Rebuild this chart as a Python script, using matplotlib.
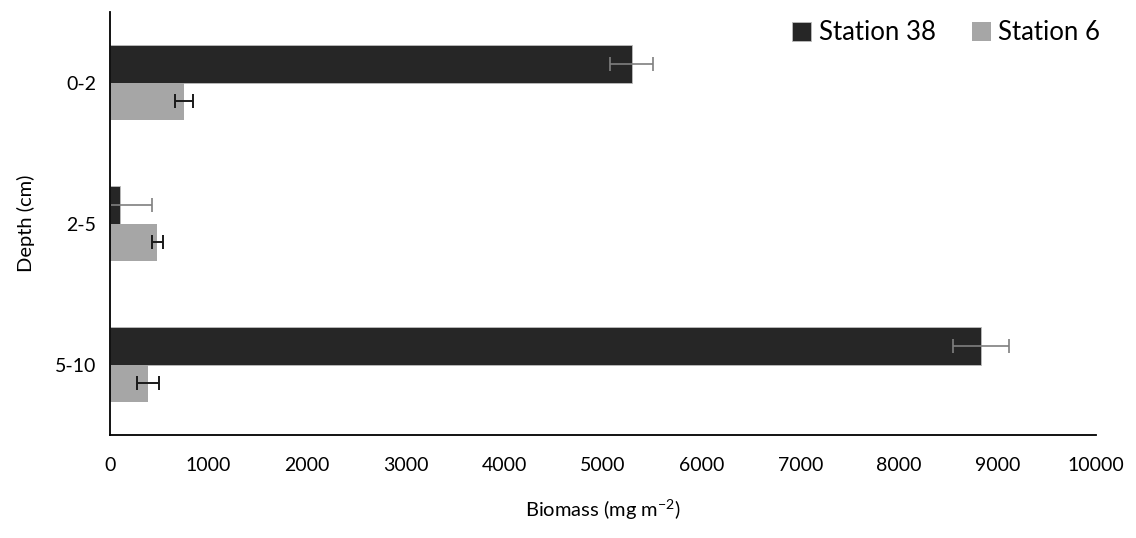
import numpy as np
import matplotlib.pyplot as plt

plt.rcParams['font.family'] = ['Lato', 'DejaVu Sans']
plt.rcParams['mathtext.fontset'] = 'custom'
plt.rcParams['mathtext.rm'] = 'Lato'
plt.rcParams['mathtext.default'] = 'regular'

# biomass by sediment depth layer
depths = ["0-2", "2-5", "5-10"]
st38 = [5290, 100, 8830]
st38_err = [220, 325, 285]
st6 = [750, 480, 385]
st6_err = [95, 55, 115]

fig = plt.figure(figsize=(11.36, 5.38), dpi=100)
ax = fig.add_axes([110 / 1136, 103 / 538, 986 / 1136, 423 / 538])

y = np.arange(len(depths))
h = 0.263

ax.barh(y - h / 2, st38, height=h, color="#262626", edgecolor="#bdbdbd", linewidth=0.6,
        label="Station 38")
ax.barh(y + h / 2, st6, height=h, color="#a6a6a6", label="Station 6")
ax.errorbar(st38, y - h / 2, xerr=st38_err, fmt="none", ecolor="#7f7f7f",
            elinewidth=1.2, capsize=5, capthick=1.2)
ax.errorbar(st6, y + h / 2, xerr=st6_err, fmt="none", ecolor="#1a1a1a",
            elinewidth=1.4, capsize=5, capthick=1.4)

ax.set_xlim(0, 10000)
ax.set_ylim(2.5, -0.5)
ax.set_xticks(np.arange(0, 10001, 1000))
ax.set_yticks(y)
ax.set_yticklabels(depths)
ax.tick_params(length=0, labelsize=14, colors="black")
ax.tick_params(axis="x", pad=16)
ax.tick_params(axis="y", pad=10)

for s in ["top", "right"]:
    ax.spines[s].set_visible(False)
ax.spines["left"].set_linewidth(1.3)
ax.spines["bottom"].set_linewidth(1.3)

ax.set_xlabel("Biomass (mg m$^{-2}$)", fontsize=14.5, labelpad=17)
ax.set_ylabel("Depth (cm)", fontsize=14.5, labelpad=14)

ax.legend(loc="upper right", bbox_to_anchor=(1.028, 1.035), ncol=2, frameon=False,
          fontsize=18.5, handlelength=0.75, handleheight=0.75, handletextpad=0.3,
          columnspacing=1.4)

fig.savefig("out.png", dpi=100)
